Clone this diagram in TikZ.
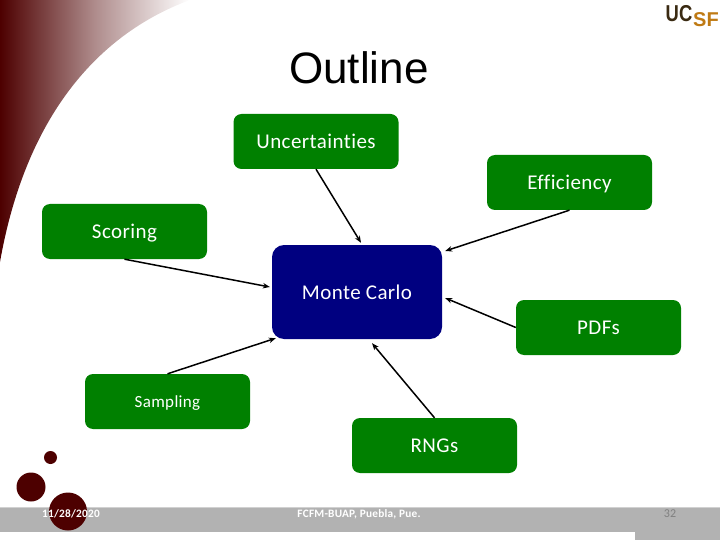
\documentclass[tikz,border=0pt]{standalone}
\usepackage{fontspec}
\setmainfont[Ligatures=NoCommon,LetterSpace=2]{Carlito}
\newfontfamily\titlefont{Liberation Sans}
\newfontfamily\logofont[FakeStretch=0.8]{Liberation Sans}
\usetikzlibrary{positioning}
\usetikzlibrary{arrows.meta}
\definecolor{maroon}{HTML}{4D0000}
\definecolor{boxgreen}{HTML}{008000}
\definecolor{boxblue}{HTML}{000080}
\definecolor{bandgray}{HTML}{B2B2B2}
\definecolor{logodark}{HTML}{3A2A12}
\definecolor{logoorange}{HTML}{BF7A14}
\tikzset{
    greenbox/.style={rectangle, rounded corners=8pt, fill=boxgreen, text=white, inner sep=0pt,
        minimum width=165pt, minimum height=55pt, text height=14.5pt, text depth=0pt,
        font=\fontsize{21}{24}\selectfont},
    bluebox/.style={greenbox, fill=boxblue, minimum width=170pt, minimum height=94pt, rounded corners=12pt},
    link/.style={draw=black, line width=1.5pt, -{Stealth[length=7pt,width=5.5pt]}},
    foottext/.style={text=white, font=\fontsize{11.3}{14}\selectfont\bfseries},
    blob/.style={circle, fill=maroon, inner sep=0pt}
}
\begin{document}
\begin{tikzpicture}[x=1pt, y=-1pt]
    \useasboundingbox (0,0) rectangle (720,540);
    % corner swoosh
    \shade[left color=maroon, right color=white, middle color=maroon!45!white]
        (0,0) -- (190,0) .. controls (95,35) and (25,120) .. (0,262) -- cycle;
    % footer band
    \path[fill=bandgray] (0,507) rectangle (720,532);
    \path[fill=bandgray] (635,532) rectangle (720,540);
    \path[fill=bandgray!60!white] (0,506.5) rectangle (720,507.5);
    \node (smallblob) at (50.5,457.5) [blob, minimum size=13pt] {};
    \node (midblob) at (31,487) [blob, minimum size=29pt] {};
    \node (bigblob) at (68,511.5) [blob, minimum size=38pt] {};
    \path
        node (date) at (71,514) [foottext] {11/28/2020}
        node (venue) at (359,514) [foottext] {FCFM-BUAP, Puebla, Pue.}
        node (page) at (670,514) [text=gray, font=\fontsize{12}{14}\selectfont] {32};
    % logo
    \node (logouc) at (679,13.5) [text=logodark, inner sep=0pt, font=\logofont\fontsize{23}{24}\selectfont\bfseries] {UC};
    \node (logosf) at (706,19.5) [text=logoorange, inner sep=0pt, font=\titlefont\fontsize{20}{24}\selectfont\bfseries] {SF};
    \node (title) at (359,68) [font=\titlefont\fontsize{44}{48}\selectfont] {Outline};
    \path
        node (unc) at (316,141.5) [greenbox] {Uncertainties}
        node (eff) at (569.5,182.5) [greenbox] {Efficiency}
        node (sco) at (124.5,231.5) [greenbox] {Scoring}
        node (pdf) at (598.5,327.5) [greenbox] {PDFs}
        node (sam) at (167.5,401.5) [greenbox, text height=12pt, font=\fontsize{17}{20}\selectfont] {Sampling}
        node (rng) at (434.5,445.5) [greenbox] {RNGs}
        node (mc) at (357,292) [bluebox] {Monte Carlo};
    \draw[link] (unc.south) -- ([xshift=4pt,yshift=2pt]mc.north);
    \draw[link] (eff.south) -- ([xshift=3pt,yshift=41pt]mc.east);
    \draw[link] (sco.south) -- ([xshift=-2pt,yshift=5pt]mc.west);
    \draw[link] (pdf.west) -- ([xshift=3pt,yshift=-6pt]mc.east);
    \draw[link] (sam.north) -- ([xshift=4pt,yshift=1pt]mc.south west);
    \draw[link] (rng.north) -- ([xshift=15pt,yshift=-4pt]mc.south);
\end{tikzpicture}
\end{document}
